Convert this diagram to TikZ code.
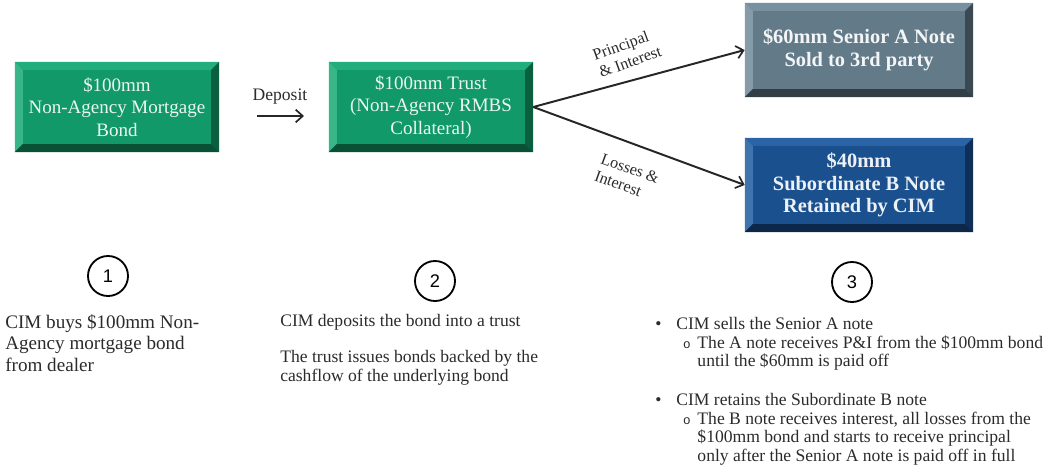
\documentclass[tikz,border=0pt]{standalone}
\usepackage{fontspec}
\setmainfont{Liberation Serif}
\newfontfamily\numfont{Liberation Sans}
\usetikzlibrary{positioning,arrows.meta}

\definecolor{bondface}{HTML}{12996A}
\definecolor{bondlight}{HTML}{22AE7C}
\definecolor{bonddark}{HTML}{0A5F41}
\definecolor{seniorface}{HTML}{637B89}
\definecolor{seniorlight}{HTML}{7890A0}
\definecolor{seniordark}{HTML}{3A4951}
\definecolor{subface}{HTML}{1B508E}
\definecolor{sublight}{HTML}{2A64A6}
\definecolor{subdark}{HTML}{0F2E58}
\definecolor{inktext}{HTML}{2B2B2B}

\tikzset{
  bevelbox/.style n args={3}{
    fill=#1, inner sep=2pt, align=center, text=white!92!#1,
    path picture={
      \fill[#2] (path picture bounding box.north west) -- (path picture bounding box.north east)
        -- ([shift={(-8,8)}]path picture bounding box.north east) -- ([shift={(8,8)}]path picture bounding box.north west) -- cycle;
      \fill[#2!90!white] (path picture bounding box.north west) -- ([shift={(8,8)}]path picture bounding box.north west)
        -- ([shift={(8,-8)}]path picture bounding box.south west) -- (path picture bounding box.south west) -- cycle;
      \fill[#3] (path picture bounding box.north east) -- ([shift={(-8,8)}]path picture bounding box.north east)
        -- ([shift={(-8,-8)}]path picture bounding box.south east) -- (path picture bounding box.south east) -- cycle;
      \fill[#3!85!black] (path picture bounding box.south west) -- ([shift={(8,-8)}]path picture bounding box.south west)
        -- ([shift={(-8,-8)}]path picture bounding box.south east) -- (path picture bounding box.south east) -- cycle;
    }
  },
  greenbox/.style={bevelbox={bondface}{bondlight}{bonddark}, minimum width=5.1cm, minimum height=2.25cm,
    font=\fontsize{13.5}{16}\selectfont},
  notebox/.style={minimum width=5.7cm, minimum height=2.35cm, font=\fontsize{14.5}{16}\selectfont\bfseries},
  flow/.style={draw=black!85, line width=1.4pt, -{Straight Barb[length=5pt,width=9pt,line width=1.2pt]}},
  flowlabel/.style={text=inktext, align=left, font=\fontsize{11.5}{13}\selectfont},
  numcircle/.style={circle, draw=black, line width=1.3pt, minimum size=1cm, inner sep=0pt,
    font=\numfont\fontsize{13}{13}\selectfont},
  textblock/.style={anchor=north west, inner sep=0pt, align=left, text=inktext,
    font=\fontsize{12.5}{13.2}\selectfont}
}

\begin{document}
\begin{tikzpicture}[x=0.025cm, y=-0.025cm]
  \useasboundingbox (0,0) rectangle (1049,472);

  % top row of boxes
  \node[greenbox] (bond) at (117,107) {\$100mm\\Non-Agency Mortgage\\Bond};
  \node[greenbox] (trust) at (431,107) {\$100mm Trust\\(Non-Agency RMBS\\Collateral)};
  \node[notebox, bevelbox={seniorface}{seniorlight}{seniordark}] (senior) at (859,50)
    {\$60mm Senior A Note\\Sold to 3rd party};
  \node[notebox, bevelbox={subface}{sublight}{subdark}] (sub) at (859,185)
    {\$40mm\\Subordinate B Note\\Retained by CIM};

  % deposit arrow
  \node[flowlabel, font=\fontsize{12.5}{13}\selectfont] (deposit) at (280,97) {Deposit};
  \coordinate (depfrom) at (257,116);
  \coordinate (depto) at (304,116);
  \draw[flow] (depfrom) -- (depto);

  % split of the cashflow
  \draw[flow] (trust.east) -- (senior.west);
  \draw[flow] (trust.east) -- (sub.west);
  \node[flowlabel, rotate=20] (pandi) at (627,53) {Principal\\\& Interest};
  \node[flowlabel, rotate=-20] (landi) at (627,177) {Losses \&\\Interest};

  % steps
  \node[numcircle] (one) at (108,276) {1};
  \node[numcircle] (two) at (435,281) {2};
  \node[numcircle] (three) at (852,282) {3};

  \node[textblock, font=\fontsize{13.6}{15.4}\selectfont] (step1) at (5,314)
    {CIM buys \$100mm Non-\\Agency mortgage bond\\from dealer};
  \node[textblock] (step2) at (280,314) {CIM deposits the bond into a trust\\[12.5pt]
    The trust issues bonds backed by the\\cashflow of the underlying bond};
  \node[textblock] (step3) at (655,317) {%
    \makebox[15pt][l]{\textbullet}CIM sells the Senior A note\\
    \makebox[30pt][l]{\hspace{20pt}{\numfont\small o}}The A note receives P\&I from the \$100mm bond\\
    \makebox[30pt]{}until the \$60mm is paid off\\[14.6pt]
    \makebox[15pt][l]{\textbullet}CIM retains the Subordinate B note\\
    \makebox[30pt][l]{\hspace{20pt}{\numfont\small o}}The B note receives interest, all losses from the\\
    \makebox[30pt]{}\$100mm bond and starts to receive principal\\
    \makebox[30pt]{}only after the Senior A note is paid off in full};

\end{tikzpicture}
\end{document}
